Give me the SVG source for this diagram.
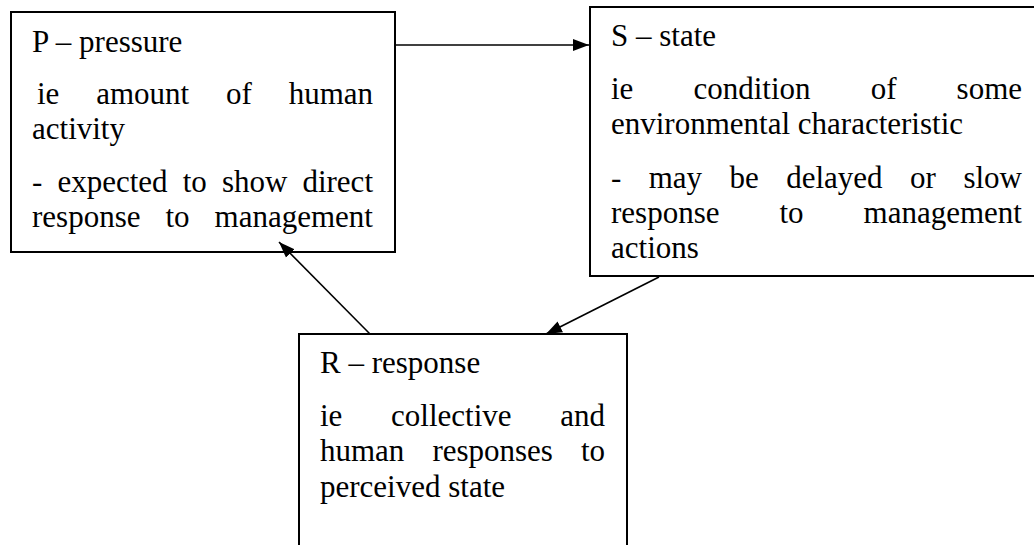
<svg xmlns="http://www.w3.org/2000/svg" width="1034" height="545" viewBox="0 0 1034 545">
<style>
.box{fill:#fff;stroke:#000;stroke-width:2}
.t{font-family:"Liberation Serif","Times New Roman",serif;font-size:31px;fill:#000}
.c{stroke:#000;stroke-width:1.6;fill:none}
</style>
<defs>
<marker id="ah" markerUnits="userSpaceOnUse" markerWidth="17" markerHeight="13" refX="16" refY="6.5" orient="auto">
<path d="M0,0.5 L16,6.5 L0,12.5 z" fill="#000"/>
</marker>
</defs>
<rect width="1034" height="545" fill="#fff"/>
<g id="node-p">
<rect class="box" x="11" y="12" width="384" height="240"/>
<text class="t" x="32" y="52">P – pressure</text>
<text class="t" y="104"><tspan x="37">ie</tspan><tspan x="96.2">amount</tspan><tspan x="226">of</tspan><tspan x="373" text-anchor="end">human</tspan></text>
<text class="t" x="32" y="139">activity</text>
<text class="t" y="192"><tspan x="32">-</tspan><tspan x="57.4">expected</tspan><tspan x="182.7">to</tspan><tspan x="221.9">show</tspan><tspan x="373" text-anchor="end">direct</tspan></text>
<text class="t" y="227"><tspan x="32">response</tspan><tspan x="165.5">to</tspan><tspan x="373" text-anchor="end">management</tspan></text>
</g>
<g id="node-s">
<rect class="box" x="590" y="7" width="460" height="269"/>
<text class="t" x="611" y="46">S – state</text>
<text class="t" y="99"><tspan x="611">ie</tspan><tspan x="693.5">condition</tspan><tspan x="870.7">of</tspan><tspan x="1022" text-anchor="end">some</tspan></text>
<text class="t" x="611" y="134">environmental characteristic</text>
<text class="t" y="188"><tspan x="611">-</tspan><tspan x="648.7">may</tspan><tspan x="729.5">be</tspan><tspan x="786.2">delayed</tspan><tspan x="910">or</tspan><tspan x="1022" text-anchor="end">slow</tspan></text>
<text class="t" y="223"><tspan x="611">response</tspan><tspan x="779.5">to</tspan><tspan x="1022" text-anchor="end">management</tspan></text>
<text class="t" x="611" y="258">actions</text>
</g>
<g id="node-r">
<rect class="box" x="299" y="334" width="328" height="240"/>
<text class="t" x="320" y="373">R – response</text>
<text class="t" y="426"><tspan x="320">ie</tspan><tspan x="391.1">collective</tspan><tspan x="605" text-anchor="end">and</tspan></text>
<text class="t" y="461"><tspan x="320">human</tspan><tspan x="432.4">responses</tspan><tspan x="605" text-anchor="end">to</tspan></text>
<text class="t" x="320" y="497">perceived state</text>
</g>
<g id="connectors">
<line class="c" x1="395" y1="45" x2="589" y2="45" marker-end="url(#ah)"/>
<line class="c" x1="659" y1="277" x2="546" y2="334" marker-end="url(#ah)"/>
<line class="c" x1="370" y1="334" x2="279" y2="242" marker-end="url(#ah)"/>
</g>
</svg>
